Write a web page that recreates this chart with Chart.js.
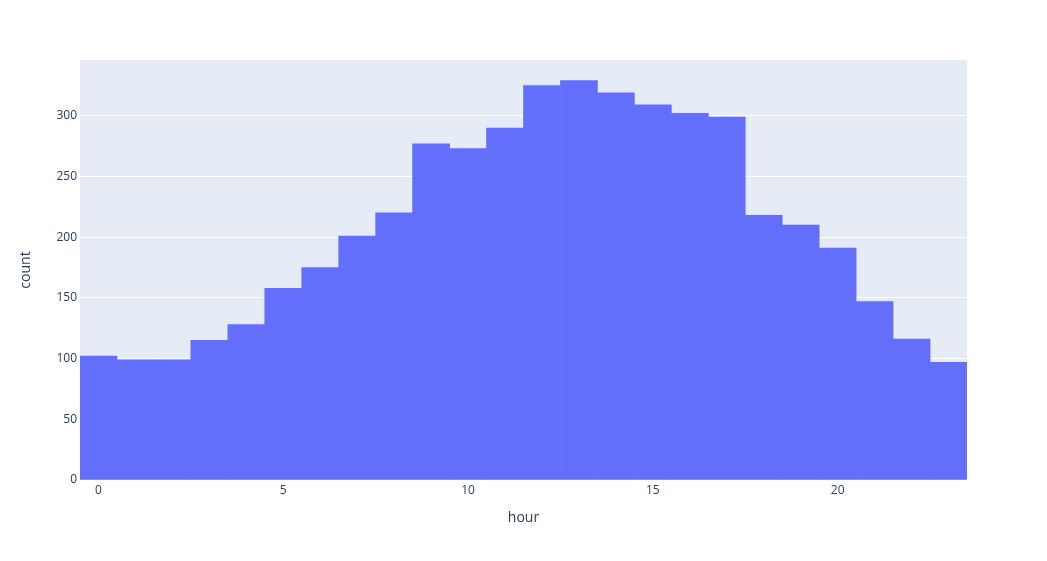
<!DOCTYPE html>
<html>
<head>
<meta charset="utf-8">
<script src="https://cdn.jsdelivr.net/npm/chart.js@4"></script>
<style>
  body { margin: 0; background: #fff; }
  canvas { display: block; }
</style>
</head>
<body>
<canvas id="hist" width="1047" height="561"></canvas>
<script>
var hours = ["0","1","2","3","4","5","6","7","8","9","10","11","12","13","14","15","16","17","18","19","20","21","22","23"];
var counts = [102, 99, 99, 115, 128, 158, 175, 201, 220, 277, 273, 290, 325, 329, 319, 309, 302, 299, 218, 210, 191, 147, 116, 97];
var yTicks = [0, 50, 100, 150, 200, 250, 300];

var plotBg = {
  id: "plotBg",
  beforeDraw: function (chart) {
    var a = chart.chartArea;
    var c = chart.ctx;
    c.save();
    c.fillStyle = "#E5ECF6";
    c.fillRect(a.left, a.top, a.right - a.left, a.bottom - a.top);
    c.restore();
  }
};

var ctx = document.getElementById("hist");
var myChart = new Chart(ctx, {
  type: "bar",
  data: {
    labels: hours,
    datasets: [
      {
        label: "count",
        data: counts,
        backgroundColor: "#636efa",
        barPercentage: 1,
        categoryPercentage: 1,
        borderWidth: 0
      }
    ]
  },
  options: {
    responsive: false,
    animation: false,
    layout: { padding: { left: 0, right: 80, top: 60, bottom: 0 } },
    plugins: { legend: { display: false }, tooltip: { enabled: false } },
    scales: {
      x: {
        grid: { display: false, drawTicks: false },
        border: { display: false },
        ticks: {
          autoSkip: false,
          maxRotation: 0,
          padding: 3,
          color: "#2a3f5f",
          font: { family: "'Open Sans', sans-serif", size: 12 },
          callback: function (v, i) { return i % 5 === 0 ? hours[i] : ""; }
        },
        title: {
          display: true,
          text: "hour",
          color: "#2a3f5f",
          font: { family: "'Open Sans', sans-serif", size: 14 },
          padding: { top: 0, bottom: 35 }
        },
        afterFit: function (s) { s.height = 81; }
      },
      y: {
        min: 0,
        max: 346,
        afterBuildTicks: function (s) { s.ticks = yTicks.map(function (v) { return { value: v }; }); },
        grid: { color: "#ffffff", lineWidth: 1, drawTicks: false },
        border: { display: false },
        ticks: {
          padding: 3,
          color: "#2a3f5f",
          font: { family: "'Open Sans', sans-serif", size: 12 }
        },
        title: {
          display: true,
          text: "count",
          color: "#2a3f5f",
          font: { family: "'Open Sans', sans-serif", size: 14 },
          padding: { top: 18, bottom: 0 }
        },
        afterFit: function (s) { s.width = 80; }
      }
    }
  },
  plugins: [plotBg]
});
</script>
</body>
</html>
